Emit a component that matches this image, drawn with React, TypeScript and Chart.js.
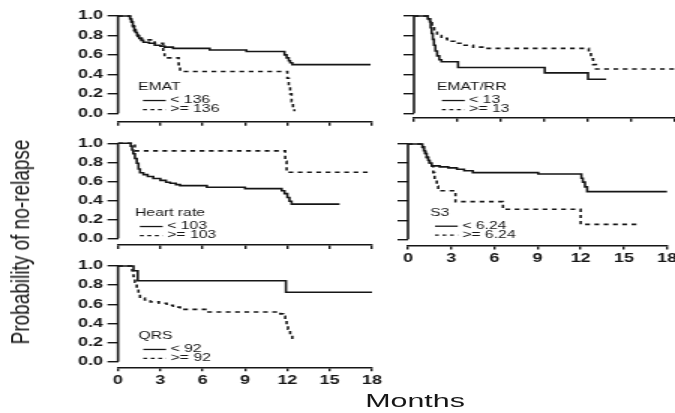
import React, { useEffect, useRef } from 'react';
import { Chart, registerables } from 'chart.js';

Chart.register(...registerables);

// ---------- data ----------
const monthTicks = [0, 3, 6, 9, 12, 15, 18];
const probTicks = [0, 0.2, 0.4, 0.6, 0.8, 1.0];

const ematLowT = [0, 0.85, 0.95, 1.05, 1.15, 1.25, 1.35, 1.5, 1.65, 1.8, 2.2, 2.6, 3.0, 3.3, 3.9, 6.5, 9.1, 11.8, 11.95, 12.1, 12.2, 12.35, 17.9];
const ematLowS = [1, 0.97, 0.94, 0.9, 0.86, 0.83, 0.8, 0.77, 0.75, 0.73, 0.72, 0.7, 0.69, 0.68, 0.667, 0.65, 0.635, 0.6, 0.57, 0.54, 0.52, 0.5, 0.5];
const ematHighT = [0, 0.85, 0.95, 1.05, 1.15, 1.25, 1.4, 1.55, 1.7, 2.6, 3.2, 3.3, 4.3, 4.4, 12.0, 12.1, 12.2, 12.3, 12.4, 12.5];
const ematHighS = [1, 0.97, 0.93, 0.89, 0.85, 0.82, 0.79, 0.77, 0.755, 0.72, 0.62, 0.57, 0.5, 0.43, 0.36, 0.28, 0.2, 0.12, 0.05, 0.02];

const rrLowT = [0, 0.95, 1.1, 1.15, 1.22, 1.3, 1.38, 1.48, 1.6, 1.75, 1.9, 3.05, 9.05, 12.05, 13.3];
const rrLowS = [1, 0.97, 0.94, 0.88, 0.82, 0.76, 0.7, 0.64, 0.59, 0.55, 0.53, 0.47, 0.415, 0.35, 0.35];
const rrHighT = [0, 0.95, 1.1, 1.25, 1.4, 1.6, 1.9, 2.3, 2.8, 3.3, 4.1, 5.0, 12.1, 12.25, 12.4, 12.6, 18];
const rrHighS = [1, 0.97, 0.93, 0.88, 0.84, 0.8, 0.77, 0.74, 0.72, 0.7, 0.68, 0.667, 0.62, 0.56, 0.5, 0.455, 0.455];

const hrLowT = [0, 0.9, 1.0, 1.08, 1.2, 1.33, 1.45, 1.56, 1.8, 2.1, 2.5, 3.0, 3.4, 3.7, 4.1, 4.4, 6.3, 9.0, 11.6, 11.8, 12.0, 12.15, 12.3, 15.7];
const hrLowS = [1, 0.97, 0.93, 0.89, 0.84, 0.79, 0.73, 0.69, 0.67, 0.65, 0.63, 0.61, 0.59, 0.58, 0.565, 0.555, 0.537, 0.523, 0.5, 0.47, 0.43, 0.39, 0.36, 0.36];
const hrHighT = [0, 1.2, 11.85, 11.95, 18];
const hrHighS = [1, 0.92, 0.81, 0.695, 0.695];

const s3LowT = [0, 1.0, 1.1, 1.2, 1.3, 1.4, 1.5, 1.65, 2.2, 2.8, 3.4, 3.9, 4.5, 9.05, 12.05, 12.15, 12.3, 12.45, 18];
const s3LowS = [1, 0.97, 0.93, 0.9, 0.86, 0.83, 0.8, 0.77, 0.76, 0.75, 0.735, 0.72, 0.7, 0.685, 0.64, 0.6, 0.55, 0.5, 0.5];
const s3HighT = [0, 1.0, 1.1, 1.2, 1.3, 1.4, 1.5, 1.65, 1.75, 1.85, 2.0, 2.1, 3.3, 6.6, 12.0, 16.1];
const s3HighS = [1, 0.97, 0.93, 0.9, 0.86, 0.83, 0.8, 0.77, 0.7, 0.63, 0.56, 0.51, 0.395, 0.315, 0.157, 0.157];

const qrsLowT = [0, 1.1, 1.4, 11.9, 18];
const qrsLowS = [1, 0.95, 0.846, 0.725, 0.725];
const qrsHighT = [0, 1.0, 1.1, 1.2, 1.33, 1.45, 1.56, 1.9, 2.3, 2.9, 3.45, 3.9, 4.4, 6.3, 11.5, 11.7, 11.85, 11.95, 12.05, 12.2, 12.35, 12.6];
const qrsHighS = [1, 0.95, 0.89, 0.83, 0.77, 0.71, 0.665, 0.645, 0.625, 0.61, 0.59, 0.57, 0.547, 0.52, 0.5, 0.475, 0.43, 0.4, 0.34, 0.28, 0.245, 0.245];

// ---------- layout / style ----------
const PAGE_W = 675;
const PAGE_H = 413;
const S = 1.5; // horizontal stretch of the figure
const CW = PAGE_W / S;
const YW = 40;
const XH = 24;
const INK = '#161616';
const FONT = '"Liberation Sans", Arial, Helvetica, sans-serif';
const DASH = [3.2, 3];

const panels = [
  { key: 'emat', title: 'EMAT', lowLabel: '< 136', highLabel: '>= 136', low: [ematLowT, ematLowS], high: [ematHighT, ematHighS],
    box: { x0: 118, x18: 372, y1: 16, y0: 113.3, axisY: 121.7 }, yLabels: true, xLabels: false, legendAt: [1.42, 0.27] },
  { key: 'rr', title: 'EMAT/RR', lowLabel: '< 13', highLabel: '>= 13', low: [rrLowT, rrLowS], high: [rrHighT, rrHighS],
    box: { x0: 414, x18: 674, y1: 16, y0: 113.3, axisY: 117.7 }, yLabels: false, xLabels: false, legendAt: [1.59, 0.27] },
  { key: 'hr', title: 'Heart rate', lowLabel: '< 103', highLabel: '>= 103', low: [hrLowT, hrLowS], high: [hrHighT, hrHighS],
    box: { x0: 118, x18: 372, y1: 143.3, y0: 238.3, axisY: 245 }, yLabels: true, xLabels: false, legendAt: [1.2, 0.266] },
  { key: 's3', title: 'S3', lowLabel: '< 6.24', highLabel: '>= 6.24', low: [s3LowT, s3LowS], high: [s3HighT, s3HighS],
    box: { x0: 408, x18: 667, y1: 144, y0: 239.3, axisY: 245.5 }, yLabels: false, xLabels: true, legendAt: [1.53, 0.279] },
  { key: 'qrs', title: 'QRS', lowLabel: '< 92', highLabel: '>= 92', low: [qrsLowT, qrsLowS], high: [qrsHighT, qrsHighS],
    box: { x0: 118, x18: 372, y1: 266, y0: 361.7, axisY: 367.3 }, yLabels: true, xLabels: true, legendAt: [1.44, 0.269] },
];

const toPoints = (t: number[], s: number[]) => t.map((x, i) => ({ x, y: s[i] }));

const axisLinePlugin = {
  id: 'kmAxisLine',
  afterDatasetsDraw(chart: any) {
    const { ctx, chartArea, scales } = chart;
    const y = scales.y;
    ctx.save();
    ctx.strokeStyle = INK;
    ctx.lineWidth = 1.6;
    ctx.beginPath();
    ctx.moveTo(chartArea.left, y.getPixelForValue(1));
    ctx.lineTo(chartArea.left, y.getPixelForValue(0));
    ctx.stroke();
    ctx.restore();
  },
};

const legendPlugin = {
  id: 'kmLegend',
  afterDraw(chart: any, _args: any, opts: any) {
    const { ctx, scales } = chart;
    const x = scales.x.getPixelForValue(opts.at[0]);
    const y = scales.y.getPixelForValue(opts.at[1]);
    ctx.save();
    ctx.fillStyle = INK;
    ctx.strokeStyle = INK;
    ctx.font = `10.5px ${FONT}`;
    ctx.textBaseline = 'middle';
    ctx.textAlign = 'left';
    ctx.fillText(opts.title, x, y);
    const rows: any[] = [[opts.lowLabel, []], [opts.highLabel, [2.6, 2.4]]];
    rows.forEach(([label, dash], i) => {
      const ry = y + 13.5 + i * 9;
      ctx.setLineDash(dash);
      ctx.lineWidth = 1.3;
      ctx.beginPath();
      ctx.moveTo(x + 3.3, ry);
      ctx.lineTo(x + 18.5, ry);
      ctx.stroke();
      ctx.setLineDash([]);
      ctx.fillText(label, x + 21.5, ry);
    });
    ctx.restore();
  },
};

function buildConfig(p: any): any {
  const b = p.box;
  const yMin = -(b.axisY - b.y0) / (b.y0 - b.y1);
  const tickFont = { family: FONT, size: 12, weight: 'bold' };
  return {
    type: 'line',
    data: {
      datasets: [
        { data: toPoints(p.low[0], p.low[1]), stepped: true, borderColor: INK, borderWidth: 1.6, pointRadius: 0, fill: false, clip: 6 },
        { data: toPoints(p.high[0], p.high[1]), stepped: true, borderColor: INK, borderWidth: 1.6, borderDash: DASH, pointRadius: 0, fill: false, clip: 6 },
      ],
    },
    options: {
      animation: false,
      responsive: false,
      events: [],
      layout: {
        padding: {
          left: b.x0 / S - YW,
          right: CW - b.x18 / S,
          top: b.y1,
          bottom: PAGE_H - b.axisY - XH,
        },
      },
      plugins: {
        legend: { display: false },
        tooltip: { enabled: false },
        kmLegend: { at: p.legendAt, title: p.title, lowLabel: p.lowLabel, highLabel: p.highLabel },
      },
      scales: {
        x: {
          type: 'linear',
          min: 0,
          max: 18,
          afterBuildTicks: (sc: any) => { sc.ticks = monthTicks.map((v) => ({ value: v })); },
          afterFit: (sc: any) => { sc.height = XH; sc.paddingLeft = 0; sc.paddingRight = 0; },
          ticks: { display: p.xLabels, autoSkip: false, maxRotation: 0, font: tickFont, color: INK, padding: 2 },
          grid: { drawOnChartArea: false, drawTicks: true, tickLength: 4, color: INK, lineWidth: 1.4 },
          border: { display: true, color: INK, width: 1.6 },
        },
        y: {
          type: 'linear',
          min: yMin,
          max: 1,
          afterBuildTicks: (sc: any) => { sc.ticks = probTicks.map((v) => ({ value: v })); },
          afterFit: (sc: any) => { sc.width = YW; sc.paddingTop = 0; sc.paddingBottom = 0; },
          ticks: { display: p.yLabels, autoSkip: false, font: tickFont, color: INK, padding: 3, callback: (v: any) => Number(v).toFixed(1) },
          grid: { drawOnChartArea: false, drawTicks: true, tickLength: 7, color: INK, lineWidth: 1.4 },
          border: { display: false },
        },
      },
    },
    plugins: [axisLinePlugin, legendPlugin],
  };
}

function KMPanel({ cfg }: { cfg: any }) {
  const ref = useRef<HTMLCanvasElement>(null);
  useEffect(() => {
    const c = ref.current;
    if (!c) return;
    const chart = new Chart(c, buildConfig(cfg));
    return () => chart.destroy();
  }, [cfg]);
  return (
    <canvas
      ref={ref}
      width={CW}
      height={PAGE_H}
      style={{ position: 'absolute', left: 0, top: 0, width: PAGE_W + 'px', height: PAGE_H + 'px' }}
    />
  );
}

export default function App() {
  return (
    <div style={{ position: 'absolute', left: 0, top: 0, width: PAGE_W, height: PAGE_H, background: '#fff', overflow: 'hidden' }}>
      {panels.map((p) => (
        <KMPanel key={p.key} cfg={p} />
      ))}
      <div
        style={{
          position: 'absolute', left: 21, top: 242, whiteSpace: 'nowrap', color: INK,
          font: `19px ${FONT}`, transform: 'translate(-50%, -50%) rotate(-90deg) scaleY(1.35)',
        }}
      >
        Probability of no-relapse
      </div>
      <div
        style={{
          position: 'absolute', left: 415, top: 401, whiteSpace: 'nowrap', color: INK,
          font: `19px ${FONT}`, transform: 'translate(-50%, -50%) scaleX(1.6)',
        }}
      >
        Months
      </div>
    </div>
  );
}
